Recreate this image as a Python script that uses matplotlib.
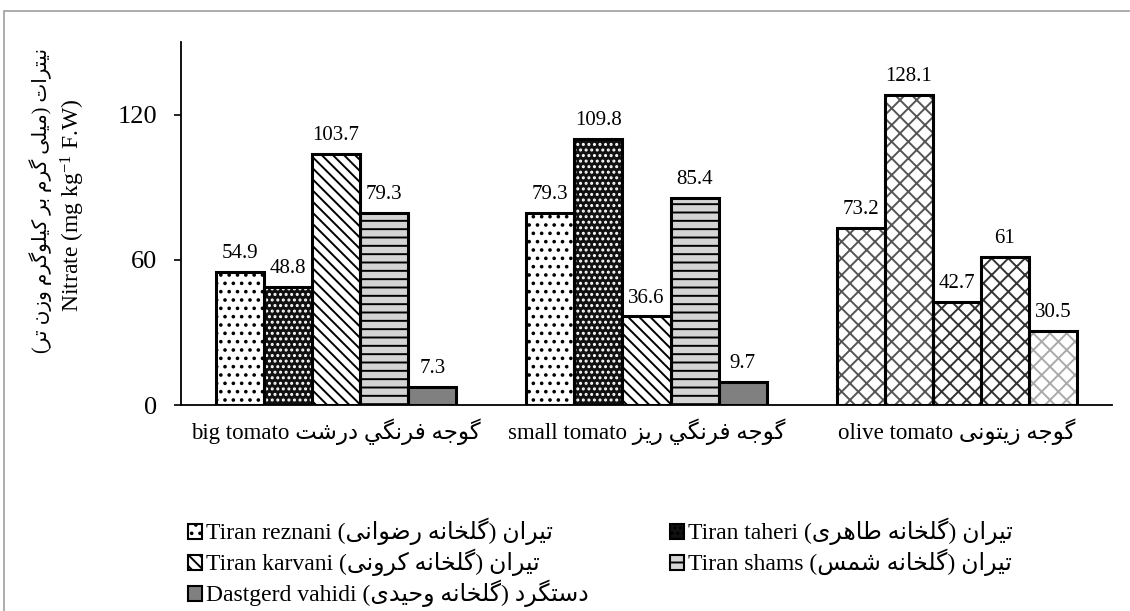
import numpy as np
import matplotlib
matplotlib.use("Agg")
import matplotlib.pyplot as plt
import matplotlib.patches as mpatches

plt.rcParams['font.family'] = ['Liberation Serif', 'DejaVu Sans']
plt.rcParams['mathtext.fontset'] = 'custom'
plt.rcParams['mathtext.rm'] = 'Liberation Serif'
plt.rcParams['mathtext.it'] = 'Liberation Serif:italic'
plt.rcParams['hatch.linewidth'] = 1.4

# ---------- minimal Persian shaping (matplotlib has no bidi/shaping) ----------

FORMS = {
    '\u0627': ('\uFE8D', '\uFE8E'),
    '\u0628': ('\uFE8F', '\uFE90', '\uFE91', '\uFE92'),
    '\u062A': ('\uFE95', '\uFE96', '\uFE97', '\uFE98'),
    '\u062C': ('\uFE9D', '\uFE9E', '\uFE9F', '\uFEA0'),
    '\u062D': ('\uFEA1', '\uFEA2', '\uFEA3', '\uFEA4'),
    '\u062E': ('\uFEA5', '\uFEA6', '\uFEA7', '\uFEA8'),
    '\u062F': ('\uFEA9', '\uFEAA'),
    '\u0631': ('\uFEAD', '\uFEAE'),
    '\u0632': ('\uFEAF', '\uFEB0'),
    '\u0633': ('\uFEB1', '\uFEB2', '\uFEB3', '\uFEB4'),
    '\u0634': ('\uFEB5', '\uFEB6', '\uFEB7', '\uFEB8'),
    '\u0636': ('\uFEBD', '\uFEBE', '\uFEBF', '\uFEC0'),
    '\u0637': ('\uFEC1', '\uFEC2', '\uFEC3', '\uFEC4'),
    '\u0641': ('\uFED1', '\uFED2', '\uFED3', '\uFED4'),
    '\u0644': ('\uFEDD', '\uFEDE', '\uFEDF', '\uFEE0'),
    '\u0645': ('\uFEE1', '\uFEE2', '\uFEE3', '\uFEE4'),
    '\u0646': ('\uFEE5', '\uFEE6', '\uFEE7', '\uFEE8'),
    '\u0647': ('\uFEE9', '\uFEEA', '\uFEEB', '\uFEEC'),
    '\u0648': ('\uFEED', '\uFEEE'),
    '\u064A': ('\uFEF1', '\uFEF2', '\uFEF3', '\uFEF4'),
    '\u06CC': ('\uFBFC', '\uFBFD', '\uFBFE', '\uFBFF'),
    '\u06A9': ('\uFB8E', '\uFB8F', '\uFB90', '\uFB91'),
    '\u06AF': ('\uFB92', '\uFB93', '\uFB94', '\uFB95'),
}
NORMALIZE = str.maketrans({'\u0643': '\u06A9', '\u0649': '\u06CC'})


def shape(s):
    s = s.translate(NORMALIZE)
    out = []
    for i, c in enumerate(s):
        forms = FORMS.get(c)
        if forms is None:
            out.append(c)
            continue
        prev = FORMS.get(s[i - 1]) if i > 0 else None
        nxt = FORMS.get(s[i + 1]) if i + 1 < len(s) else None
        jp = prev is not None and len(prev) == 4
        jn = nxt is not None and len(forms) == 4
        if jp and jn:
            out.append(forms[3])
        elif jp:
            out.append(forms[1])
        elif jn:
            out.append(forms[2])
        else:
            out.append(forms[0])
    return ''.join(out)


def fa(s):
    """Shaped, visually ordered RTL string."""
    return shape(s)[::-1].translate(str.maketrans('()', ')('))


# ---------- data ----------

categories_en = ["big tomato", "small tomato", "olive tomato"]
categories_fa = ["گوجه فرنگي درشت", "گوجه فرنگي ریز", "گوجه زیتونی"]

series_en = ["Tiran reznani", "Tiran taheri", "Tiran karvani", "Tiran shams", "Dastgerd vahidi"]
series_fa = ["تیران (گلخانه رضوانی)", "تیران (گلخانه طاهری)", "تیران (گلخانه کرونی)",
             "تیران (گلخانه شمس)", "دستگرد (گلخانه وحیدی)"]

reznani = [54.9, 79.3, 73.2]
taheri = [48.8, 109.8, 128.1]
karvani = [103.7, 36.6, 42.7]
shams = [79.3, 85.4, 61]
vahidi = [7.3, 9.7, 30.5]
values = [reznani, taheri, karvani, shams, vahidi]

y_ticks = [0, 60, 120]
ylabel_fa = "نیترات (میلی گرم بر کیلوگرم وزن تر)"
ylabel_en = "Nitrate (mg kg$^{-1}$ F.W)"

# ---------- styles ----------

FACE = ["white", "#111111", "white", "#d4d4d4", "#808080"]
HATCH = ["..", "...", "\\\\\\", "--", None]
HATCH_COLOR = ["black", "white", "black", "black", "#808080"]
OLIVE_HATCH_COLOR = ["#555555", "#555555", "#333333", "#333333", "#aaaaaa"]

BAR_W = 0.155

fig = plt.figure(figsize=(11.3, 6.11), dpi=100)
ax = fig.add_axes([181 / 1130, 1 - 405 / 611, (1112 - 181) / 1130, (405 - 42) / 611])

x = np.arange(len(categories_en))
for i, vals in enumerate(values):
    xi = x + (i - 2) * BAR_W
    ax.bar(xi[:2], vals[:2], BAR_W, color=FACE[i], hatch=HATCH[i],
           edgecolor=HATCH_COLOR[i], linewidth=0)
    # olive tomato bars carry their own zigzag-like fill in the original
    ax.bar(xi[2:], vals[2:], BAR_W, color="white", hatch="xx",
           edgecolor=OLIVE_HATCH_COLOR[i], linewidth=0)
    ax.bar(xi, vals, BAR_W, fill=False, edgecolor="black", linewidth=2.2, zorder=3)
    for xx, v in zip(xi, vals):
        ax.annotate(f"{v:g}", (xx, v), xytext=(0, 10), textcoords="offset points",
                    ha="center", va="baseline", fontsize=15)

ax.set_xlim(-0.5, 2.5)
ax.set_ylim(0, 150)
ax.set_yticks(y_ticks)
ax.tick_params(axis="y", labelsize=19, length=5, width=1.2, pad=12)
ax.set_xticks(x)
ax.set_xticklabels([en + " " + fa(f) for en, f in zip(categories_en, categories_fa)])
ax.tick_params(axis="x", labelsize=16.5, length=0, pad=10)

for s in ["top", "right"]:
    ax.spines[s].set_visible(False)
ax.spines["left"].set_linewidth(1.3)
ax.spines["bottom"].set_linewidth(1.3)

# two-line y label: Persian line and English line
fig.text(41 / 1130, 1 - 200 / 611, fa(ylabel_fa), rotation=90,
         ha="center", va="center", fontsize=14.5)
fig.text(73 / 1130, 1 - 205 / 611, ylabel_en, rotation=90,
         ha="center", va="center", fontsize=17)

# legend, Excel fills rows first: two separate columns
handles = [mpatches.Patch(facecolor=FACE[i], edgecolor="black", hatch=HATCH[i], linewidth=1.5)
           for i in range(5)]
labels = [en + " " + fa(f) for en, f in zip(series_en, series_fa)]

leg_kw = dict(loc="upper left", frameon=False, fontsize=17, handlelength=0.6,
              handleheight=0.6, handletextpad=0.15, labelspacing=0.15,
              borderaxespad=0, borderpad=0)
fig.legend([handles[0], handles[2], handles[4]], [labels[0], labels[2], labels[4]],
           bbox_to_anchor=(188 / 1130, 1 - 518 / 611), **leg_kw)
fig.legend([handles[1], handles[3]], [labels[1], labels[3]],
           bbox_to_anchor=(670 / 1130, 1 - 518 / 611), **leg_kw)

# outer chart border
fig.patches.append(mpatches.Rectangle((4 / 1130, -0.1), 1.2, 1.1 - 11 / 611,
                                      transform=fig.transFigure, fill=False,
                                      edgecolor="#a0a0a0", linewidth=1.2))

fig.savefig("out.png", dpi=100)
